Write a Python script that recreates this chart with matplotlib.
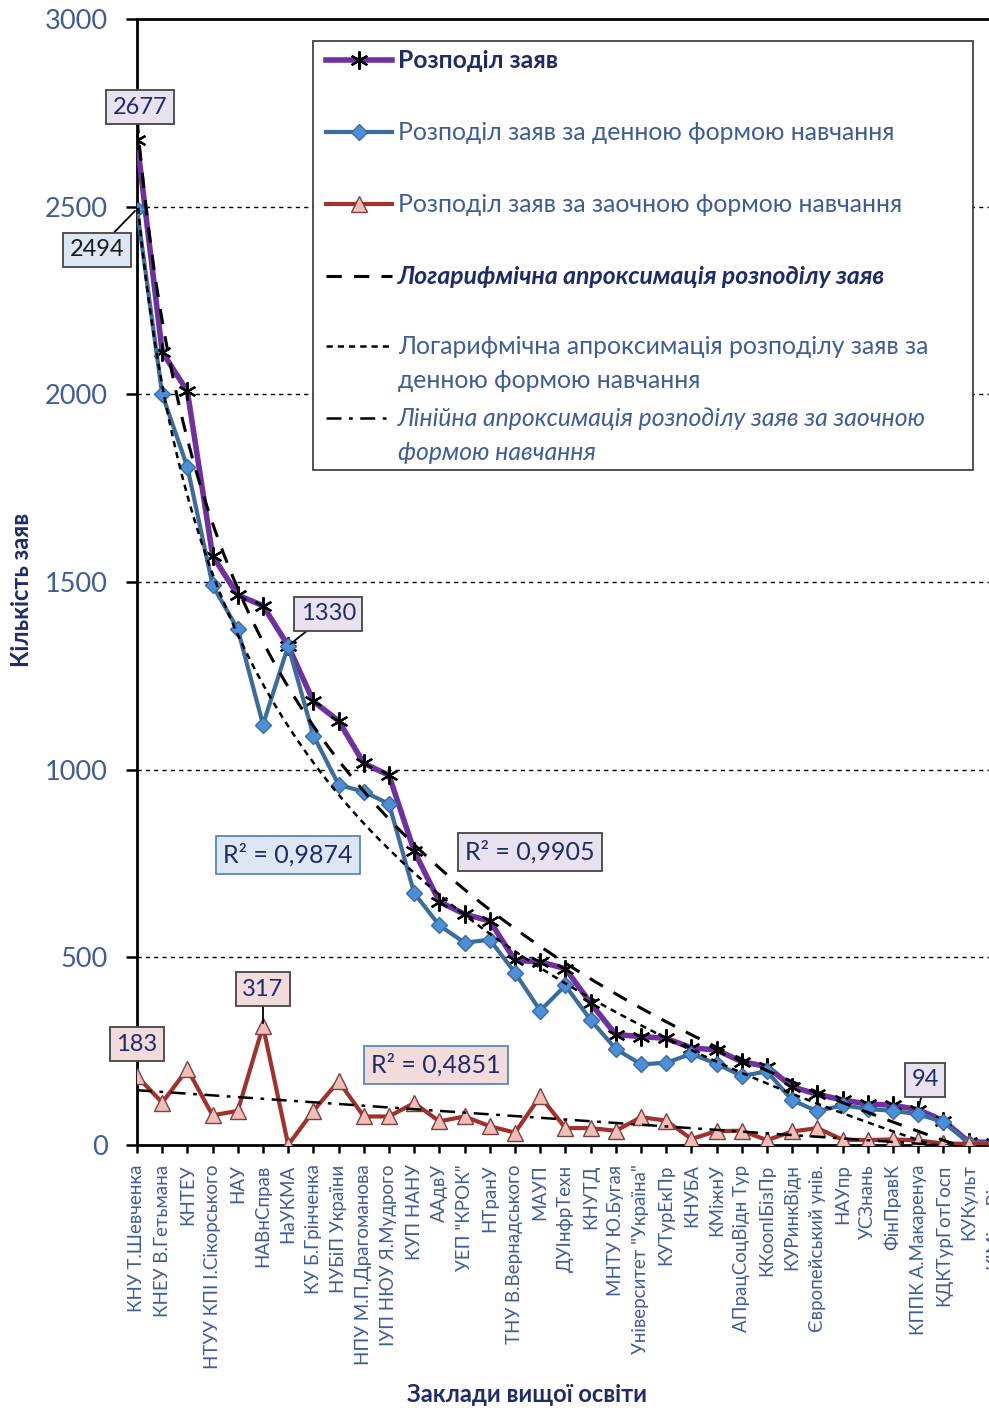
import numpy as np
import matplotlib
matplotlib.use("Agg")
import matplotlib.pyplot as plt
from matplotlib.lines import Line2D
from matplotlib.patches import Rectangle

# ---------------- data ----------------
categories = ["КНУ Т.Шевченка", "КНЕУ В.Гетьмана", "КНТЕУ", "НТУУ КПІ І.Сікорського", "НАУ",
              "НАВнСправ", "НаУКМА", "КУ Б.Грінченка", "НУБіП України", "НПУ М.П.Драгоманова",
              "ІУП НЮУ Я.Мудрого", "КУП НАНУ", "ААдвУ", "УЕП \"КРОК\"", "НТранУ",
              "ТНУ В.Вернадського", "МАУП", "ДУІнфрТехн", "КНУТД", "МНТУ Ю.Бугая",
              "Університет \"Україна\"", "КУТурЕкПр", "КНУБА", "КМіжнУ", "АПрацСоцВідн Тур",
              "ККоопІБізПр", "КУРинкВідн", "Європейський унів.", "НАУпр", "УСЗнань",
              "ФінПравК", "КППК А.Макаренуа", "КДКТурГотГосп", "КУКульт", "КІМіжнВідн"]
total = [2677, 2113, 2008, 1570, 1465, 1437, 1330, 1182, 1130, 1017, 985, 783, 648, 615, 597,
         492, 488, 470, 378, 294, 289, 284, 259, 253, 222, 209, 155, 135, 120, 109, 106, 94, 65, 9, 6]
day = [2494, 2000, 1806, 1491, 1374, 1120, 1330, 1091, 960, 941, 909, 671, 585, 539, 547,
       459, 358, 425, 333, 256, 215, 219, 243, 216, 184, 196, 119, 90, 106, 96, 91, 82, 61, 6, 5]
corr = [183, 113, 202, 79, 91, 317, 0, 91, 170, 76, 76, 112, 63, 76, 50,
        33, 130, 45, 45, 38, 74, 65, 16, 37, 38, 13, 36, 45, 14, 13, 15, 12, 4, 3, 1]
yticks = [0, 500, 1000, 1500, 2000, 2500, 3000]
r2_total = "R² = 0,9905"
r2_day = "R² = 0,9874"
r2_corr = "R² = 0,4851"
legend_labels = ["Розподіл заяв",
                 "Розподіл заяв за денною формою навчання",
                 "Розподіл заяв за заочною формою навчання",
                 "Логарифмічна апроксимація розподілу заяв",
                 "Логарифмічна апроксимація розподілу заяв за\nденною формою навчання",
                 "Лінійна апроксимація розподілу заяв за заочною\nформою навчання"]

# ---------------- style ----------------
plt.rcParams['font.family'] = ['Lato', 'DejaVu Sans']
PURPLE = '#7030A0'
BLUE = '#3B6C9E'
BLUE_FILL = '#4A8FD8'
RED = '#A3312B'
RED_FILL = '#F2BDB6'
NAVY = '#1F2A6B'
TXT = '#3E5C9C'

W, H = 989, 1410
fig = plt.figure(figsize=(W / 100, H / 100), dpi=100)


def fx(px):
    return px / W


def fy(py):
    return 1 - py / H


left_px, top_px, bottom_px, step = 137, 19, 1145, 25.2
n_span = 36
right_px = left_px + n_span * step
ax = fig.add_axes([fx(left_px), fy(bottom_px), (right_px - left_px) / W, (bottom_px - top_px) / H])
x = np.arange(len(categories))
ax.set_xlim(0, n_span)
ax.set_ylim(0, 3000)

for s in ax.spines.values():
    s.set_linewidth(2)
    s.set_color('black')

ax.set_yticks(yticks)
ax.set_yticklabels([str(v) for v in yticks], fontsize=19.5, color=TXT)
ax.set_xticks(x)
ax.set_xticklabels(categories, rotation=90, fontsize=13.5, color=TXT, ha='center', va='top')
ax.tick_params(axis='y', direction='out', length=8, width=1.8, pad=13)
ax.tick_params(axis='x', direction='out', length=6, width=1.8, pad=8)

for v in yticks[1:-1]:
    ax.axhline(v, color='black', lw=1, ls=(0, (3, 3)), zorder=1)

# data series
ax.plot(x, total, color=PURPLE, lw=4, marker=(6, 2, 0), ms=13, mec='black', mew=1.6, zorder=4)
ax.plot(x, day, color=BLUE, lw=3, marker='D', ms=8, mfc=BLUE_FILL, mec=BLUE, mew=1, zorder=5)
ax.plot(x, corr, color=RED, lw=3, marker='^', ms=12, mfc=RED_FILL, mec='#7A4040', mew=1, zorder=5)

# trend lines
xs = np.arange(1, len(total) + 1)
xf = np.linspace(1, n_span + 1, 400)
a1, b1 = np.polyfit(np.log(xs), total, 1)
a2, b2 = np.polyfit(np.log(xs), day, 1)
a3, b3 = np.polyfit(xs, corr, 1)
ax.plot(xf - 1, a1 * np.log(xf) + b1, color='black', lw=2.2, ls=(0, (5, 4)), zorder=6)
ax.plot(xf - 1, a2 * np.log(xf) + b2, color='black', lw=1.8, ls=(0, (2.5, 2)), zorder=6)
ax.plot(xf - 1, a3 * xf + b3, color='black', lw=1.8, ls=(0, (6, 3, 1.5, 3)), zorder=6)

# data labels
def lab(i, series, dx, dy, fc, tc, arrow=True, ec='#444444'):
    ap = dict(arrowstyle='-', color='black', lw=1.3, shrinkA=0, shrinkB=2) if arrow else None
    ax.annotate(str(series[i]), xy=(x[i], series[i]), xytext=(dx, dy), textcoords='offset pixels',
                ha='center', va='center', fontsize=17, color=tc, zorder=8,
                bbox=dict(boxstyle='square,pad=0.28', fc=fc, ec=ec, lw=1.3),
                arrowprops=ap, annotation_clip=False)


LAV = '#E8E2EE'
LBLUE = '#DDE7F3'
PINK = '#F2DCDB'
lab(0, total, 3, 33, LAV, NAVY)
lab(0, day, -40, -41, LBLUE, '#1A1A1A')
lab(6, total, 40, 32, LAV, NAVY)
lab(0, corr, 0, 32, PINK, NAVY, arrow=False)
lab(5, corr, 0, 37, PINK, NAVY)
lab(31, total, 7, 30, LAV, NAVY)
lab(34, total, 12, 40, LAV, NAVY)

# R² boxes
fig.text(fx(288), fy(855), r2_day, fontsize=18, color=NAVY, ha='center', va='center',
         bbox=dict(boxstyle='square,pad=0.3', fc=LBLUE, ec='#5B86C0', lw=1.3))
fig.text(fx(530), fy(852), r2_total, fontsize=18, color=NAVY, ha='center', va='center',
         bbox=dict(boxstyle='square,pad=0.3', fc=LAV, ec='#444444', lw=1.3))
fig.text(fx(436), fy(1065), r2_corr, fontsize=18, color=NAVY, ha='center', va='center',
         bbox=dict(boxstyle='square,pad=0.3', fc=PINK, ec='#5B86C0', lw=1.3))

# legend (manual)
fig.add_artist(Rectangle((fx(313), fy(470)), (973 - 313) / W, (470 - 41) / H,
                         transform=fig.transFigure, fc='white', ec='#333333', lw=1.2, zorder=9))
rows = [60, 132, 204, 276, 346, 418]
hx0, hx1 = fx(326), fx(392)
hm = (hx0 + hx1) / 2
handles = [
    dict(color=PURPLE, lw=4, marker=(6, 2, 0), ms=13, mec='black', mew=1.6),
    dict(color=BLUE, lw=3, marker='D', ms=8, mfc=BLUE_FILL, mec=BLUE, mew=1),
    dict(color=RED, lw=3, marker='^', ms=12, mfc=RED_FILL, mec='#7A4040', mew=1),
    dict(color='black', lw=2.2, ls=(0, (5, 4))),
    dict(color='black', lw=1.8, ls=(0, (2.5, 2))),
    dict(color='black', lw=1.8, ls=(0, (6, 3, 1.5, 3))),
]
styles = [('bold', 'normal', NAVY), ('normal', 'normal', TXT), ('normal', 'normal', TXT),
          ('bold', 'italic', NAVY), ('normal', 'normal', TXT), ('normal', 'italic', TXT)]
for r, h, lbl, (fw, fs, col) in zip(rows, handles, legend_labels, styles):
    ln = Line2D([hx0, hm, hx1], [fy(r)] * 3, transform=fig.transFigure, markevery=[1], zorder=10, **h)
    fig.add_artist(ln)
    if '\n' in lbl:
        first, second = lbl.split('\n')
        fig.text(fx(398), fy(r), first, fontsize=17.8, fontweight=fw, fontstyle=fs, color=col,
                 ha='left', va='center', zorder=10)
        fig.text(fx(398), fy(r + 34), second, fontsize=17.8, fontweight=fw, fontstyle=fs, color=col,
                 ha='left', va='center', zorder=10)
    else:
        fig.text(fx(398), fy(r), lbl, fontsize=17.8, fontweight=fw, fontstyle=fs, color=col,
                 ha='left', va='center', zorder=10)

# axis titles
fig.text(fx(22), fy(590), "Кількість заяв", rotation=90, fontsize=17, fontweight='bold',
         color=NAVY, ha='center', va='center')
fig.text(fx(527), fy(1395), "Заклади вищої освіти", fontsize=17, fontweight='bold',
         color=NAVY, ha='center', va='center')

fig.savefig('out.png', dpi=100)
